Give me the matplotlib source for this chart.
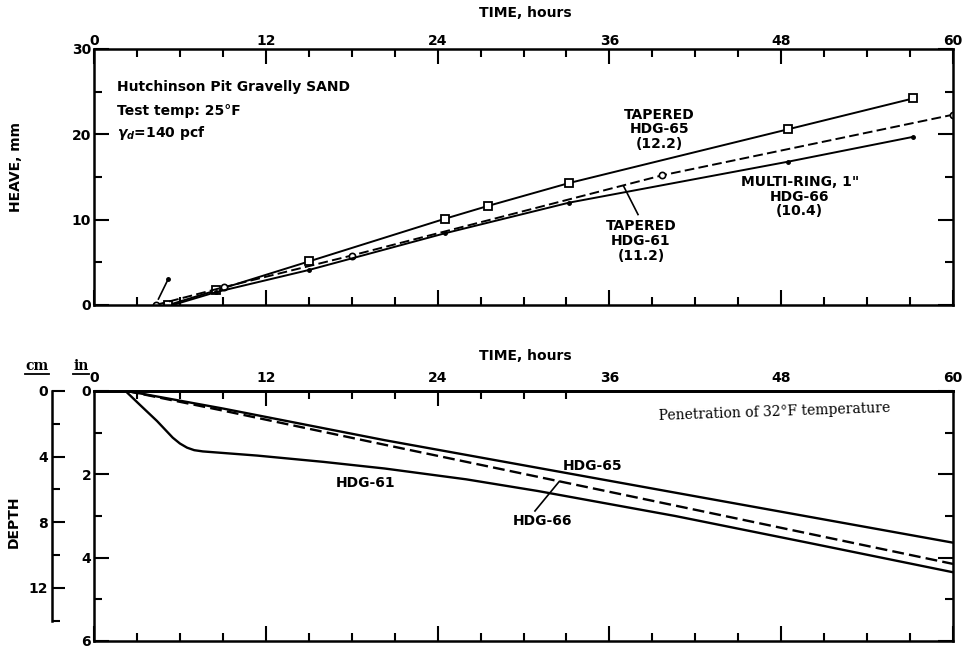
import matplotlib
matplotlib.use("Agg")
import matplotlib.pyplot as plt
from matplotlib.ticker import MultipleLocator, FixedLocator, NullFormatter
from matplotlib.lines import Line2D

# heave vs time (hours, mm)
hdg65_t = [5.2, 8.5, 15.0, 24.5, 27.5, 33.2, 48.5, 57.2]
hdg65_h = [0.0, 1.7, 5.1, 10.1, 11.6, 14.3, 20.6, 24.2]
hdg61_t = [4.3, 9.1, 18.0, 39.7, 60.0]
hdg61_h = [0.0, 2.1, 5.8, 15.2, 22.3]
hdg66_t = [5.5, 8.5, 15.0, 24.5, 33.2, 48.5, 57.2]
hdg66_h = [0.0, 1.5, 4.1, 8.4, 12.0, 16.8, 19.7]
stray_t, stray_h = 5.2, 3.1

# 32F penetration depth vs time (hours, inches)
pen65_t = [2.3, 9.0, 20.3, 40.6, 60.0]
pen65_d = [0.0, 0.42, 1.18, 2.44, 3.64]
pen66_t = [2.3, 9.0, 20.3, 40.6, 60.0]
pen66_d = [0.0, 0.47, 1.29, 2.75, 4.15]
pen61_t = [2.2, 3.2, 4.4, 5.5, 6.0, 6.5, 7.0, 7.6, 11.4, 16.0, 20.3, 26.0, 31.0, 40.6, 50.0, 60.0]
pen61_d = [0.0, 0.33, 0.72, 1.12, 1.26, 1.36, 1.42, 1.45, 1.55, 1.70, 1.86, 2.12, 2.40, 3.00, 3.65, 4.35]

time_ticks = [0, 12, 24, 36, 48, 60]

W, H = 967, 650
plt.rcParams['font.family'] = 'DejaVu Sans'
plt.rcParams['font.weight'] = 'bold'
plt.rcParams['font.size'] = 10
plt.rcParams['axes.linewidth'] = 1.8

fig = plt.figure(figsize=(W / 100, H / 100), dpi=100)
ax1 = fig.add_axes([94 / W, 1 - 305 / H, 859 / W, 256 / H])
ax2 = fig.add_axes([94 / W, 1 - 641 / H, 859 / W, 250 / H])

DASH = (5, 2.2)

# ---- top: heave ----
ax1.plot(hdg65_t, hdg65_h, 'k-', lw=1.4, marker='s', ms=6, mfc='white', mew=1.3)
ax1.plot(hdg61_t, hdg61_h, 'k--', lw=1.4, dashes=DASH, marker='o', ms=4.5, mfc='white', mew=1.2)
ax1.plot(hdg66_t, hdg66_h, 'k-', lw=1.4, marker='o', ms=2.5, markevery=list(range(1, len(hdg66_t))))
ax1.plot([stray_t], [stray_h], 'ko', ms=2.5)
ax1.plot([stray_t, 4.5], [stray_h, 0.7], 'k-', lw=1.2)

ax1.set_xlim(0, 60)
ax1.set_ylim(0, 30)
ax1.xaxis.set_major_locator(MultipleLocator(12))
ax1.xaxis.set_minor_locator(MultipleLocator(3))
ax1.yaxis.set_major_locator(MultipleLocator(10))
ax1.yaxis.set_minor_locator(MultipleLocator(5))
ax1.tick_params(axis='x', which='both', direction='in', top=True, bottom=True,
                labeltop=True, labelbottom=False, pad=1)
ax1.tick_params(axis='y', which='both', direction='in', left=True, right=True, pad=2)
ax1.tick_params(which='major', length=11, width=1.5)
ax1.tick_params(which='minor', length=6, width=1.5)
ax1.set_xticks(time_ticks)

ax1.text(0.027, 0.853, 'Hutchinson Pit Gravelly SAND', transform=ax1.transAxes, va='center')
ax1.text(0.027, 0.759, 'Test temp: 25°F', transform=ax1.transAxes, va='center')
ax1.text(0.027, 0.672, r'$\gamma_d$=140 pcf', transform=ax1.transAxes, va='center')

ax1.text(39.5, 20.6, 'TAPERED\nHDG-65\n(12.2)', ha='center', va='center', linespacing=1.05)
ax1.text(38.2, 7.5, 'TAPERED\nHDG-61\n(11.2)', ha='center', va='center', linespacing=1.05)
ax1.plot([37.0, 38.0], [13.9, 10.6], 'k-', lw=1.2)
ax1.text(49.3, 12.7, 'MULTI-RING, 1"\nHDG-66\n(10.4)', ha='center', va='center', linespacing=1.05)

# ---- bottom: frost penetration ----
ax2.plot(pen65_t, pen65_d, 'k-', lw=1.7)
ax2.plot(pen66_t, pen66_d, 'k--', lw=1.7, dashes=DASH)
ax2.plot(pen61_t, pen61_d, 'k-', lw=1.7)

ax2.set_xlim(0, 60)
ax2.set_ylim(6, 0)
ax2.xaxis.set_major_locator(MultipleLocator(12))
ax2.xaxis.set_minor_locator(MultipleLocator(3))
ax2.yaxis.set_major_locator(MultipleLocator(2))
ax2.yaxis.set_minor_locator(MultipleLocator(1))
ax2.tick_params(axis='x', which='both', direction='in', top=False, bottom=True,
                labelbottom=False)
ax2.tick_params(axis='y', which='both', direction='in', left=True, right=True, pad=2)
ax2.tick_params(which='major', length=11, width=1.5)
ax2.tick_params(which='minor', length=6, width=1.5)

# top labels (no tick marks) and top ticks only up to 33 h
sec_lab = ax2.secondary_xaxis('top')
sec_lab.set_xticks(time_ticks)
sec_lab.tick_params(length=0, pad=4)
sec_lab.spines['top'].set_linewidth(1.8)
sec_tk = ax2.secondary_xaxis('top')
sec_tk.xaxis.set_major_locator(FixedLocator([12, 24]))
sec_tk.xaxis.set_minor_locator(FixedLocator([3, 6, 9, 15, 18, 21, 27, 30, 33]))
sec_tk.xaxis.set_major_formatter(NullFormatter())
sec_tk.tick_params(which='both', direction='in', width=1.5)
sec_tk.tick_params(which='major', length=11)
sec_tk.tick_params(which='minor', length=6)
sec_tk.spines['top'].set_linewidth(1.8)

ax2.text(19.0, 2.21, 'HDG-61', ha='center', va='center')
ax2.text(34.8, 1.79, 'HDG-65', ha='center', va='center')
ax2.text(31.3, 3.13, 'HDG-66', ha='center', va='center')
ax2.plot([32.5, 30.8], [2.17, 2.88], 'k-', lw=1.2)
ax2.text(47.5, 0.5, 'Penetration of 32°F temperature', ha='center', va='center',
         family='DejaVu Serif', weight='normal', fontsize=10, rotation=2)

# cm scale
ax_cm = fig.add_axes([52 / W, 1 - 641 / H, 0.0001, 250 / H])
ax_cm.patch.set_visible(False)
for s in ['top', 'right', 'bottom']:
    ax_cm.spines[s].set_visible(False)
ax_cm.set_ylim(6 * 2.54, 0)
ax_cm.spines['left'].set_bounds(0, 14)
ax_cm.set_xticks([])
ax_cm.yaxis.set_major_locator(FixedLocator([0, 4, 8, 12]))
ax_cm.yaxis.set_minor_locator(FixedLocator([2, 6, 10, 14]))
ax_cm.tick_params(axis='y', which='both', direction='in', width=1.5, pad=3)
ax_cm.tick_params(which='major', length=9)
ax_cm.tick_params(which='minor', length=6)

# axis titles
fig.text(525 / W, 1 - 13 / H, 'TIME, hours', ha='center', va='center')
fig.text(525 / W, 1 - 356 / H, 'TIME, hours', ha='center', va='center')
fig.text(16 / W, 1 - 167 / H, 'HEAVE, mm', rotation=90, ha='center', va='center')
fig.text(14 / W, 1 - 522 / H, 'DEPTH', rotation=90, ha='center', va='center')

units = []
for x, s in [(37, 'cm'), (81, 'in')]:
    units.append(fig.text(x / W, 1 - 366 / H, s, ha='center', va='center',
                          family='DejaVu Serif', fontsize=10))

fig.canvas.draw()
for t in units:
    bb = t.get_window_extent()
    y = (bb.y0 - 1) / H
    fig.add_artist(Line2D([bb.x0 / W, bb.x1 / W], [y, y], color='k', lw=1.3,
                          transform=fig.transFigure))

fig.savefig('out.png', dpi=100)
